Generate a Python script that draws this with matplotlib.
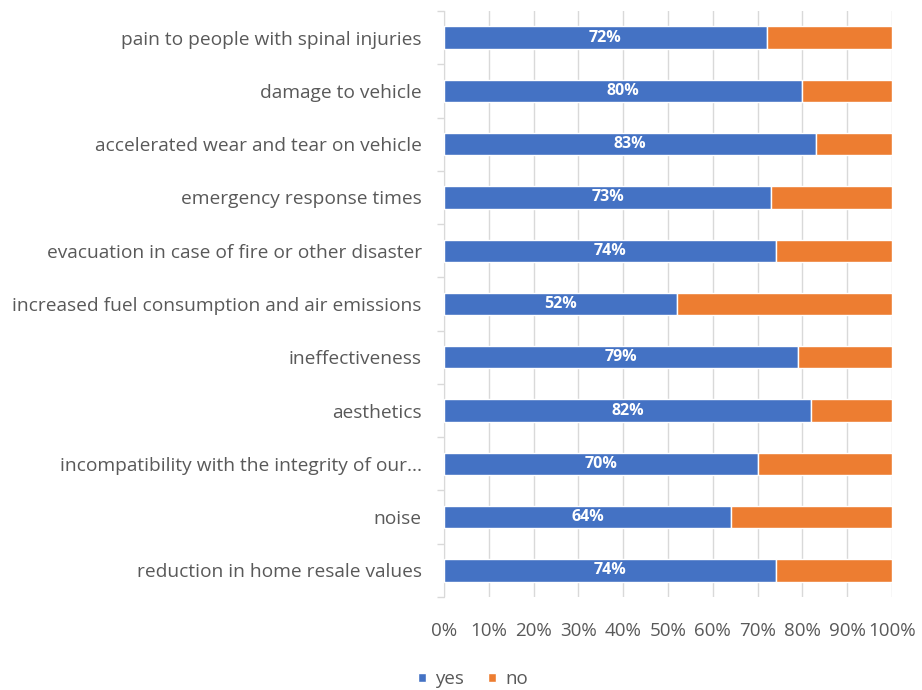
import matplotlib.pyplot as plt
import numpy as np

categories = [
    "pain to people with spinal injuries",
    "damage to vehicle",
    "accelerated wear and tear on vehicle",
    "emergency response times",
    "evacuation in case of fire or other disaster",
    "increased fuel consumption and air emissions",
    "ineffectiveness",
    "aesthetics",
    "incompatibility with the integrity of our...",
    "noise",
    "reduction in home resale values",
]
yes = [72, 80, 83, 73, 74, 52, 79, 82, 70, 64, 74]
no = [28, 20, 17, 27, 26, 48, 21, 18, 30, 36, 26]
xticks = [0, 10, 20, 30, 40, 50, 60, 70, 80, 90, 100]

plt.rcParams['font.family'] = ['Open Sans', 'DejaVu Sans']
grey = '#595959'

fig = plt.figure(figsize=(9.22, 6.90), dpi=100)
ax = fig.add_axes([0.4816, 0.1348, 0.9675 - 0.4816, 0.984 - 0.1348])

y = np.arange(len(categories))
h = 0.42
ax.barh(y, yes, height=h, color='#4472C4', edgecolor='white', linewidth=1, label='yes', zorder=3)
ax.barh(y, no, left=yes, height=h, color='#ED7D31', edgecolor='white', linewidth=1, label='no', zorder=3)

for yi, v in zip(y, yes):
    ax.text(v / 2, yi, f"{v}%", ha='center', va='center', color='white',
            fontsize=11.5, fontweight='bold', zorder=4)

ax.set_ylim(len(categories) - 0.5, -0.5)
ax.set_xlim(0, 100)
ax.set_yticks(y)
ax.set_yticklabels(categories, fontsize=13.8, color=grey)
ax.set_yticks(np.arange(len(categories) + 1) - 0.5, minor=True)
ax.tick_params(axis='y', which='major', length=0, pad=16)
ax.tick_params(axis='y', which='minor', length=5, color='#D9D9D9', width=1)

ax.set_xticks(xticks)
ax.set_xticklabels([f"{t}%" for t in xticks], fontsize=13.5, color=grey)
ax.tick_params(axis='x', length=0, pad=18)
ax.grid(axis='x', color='#D9D9D9', linewidth=1, zorder=0)

for s in ['top', 'right', 'bottom']:
    ax.spines[s].set_visible(False)
ax.spines['left'].set_color('#D9D9D9')

leg = fig.legend(loc='center', bbox_to_anchor=(0.513, 0.016), ncol=2, frameon=False,
                 fontsize=13.5, handlelength=0.4, handleheight=0.4, handletextpad=0.5,
                 columnspacing=1.3)
for t in leg.get_texts():
    t.set_color(grey)

fig.savefig('out.png', dpi=100)
